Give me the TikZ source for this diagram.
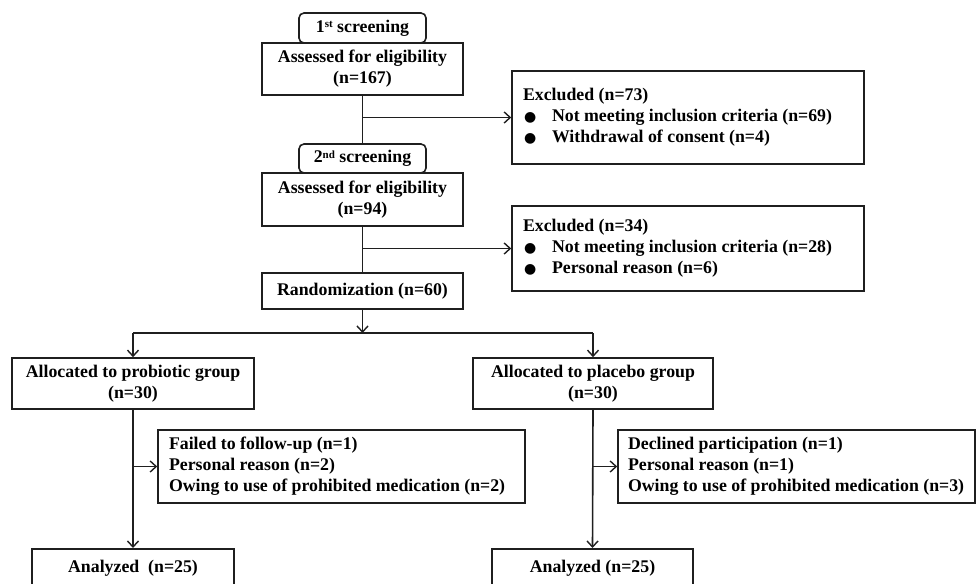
\documentclass[tikz,border=0pt]{standalone}
\usepackage{fontspec}
\setmainfont{Liberation Serif}
\newfontfamily\symf{DejaVu Sans}
\usetikzlibrary{arrows.meta}
\newcommand\bul{\makebox[29pt][l]{\hspace{1pt}{\symf\fontsize{14}{14}\selectfont ●}}}
\newcommand\supx[1]{\raisebox{0.55ex}{\fontsize{11}{11}\selectfont #1}}
\newcommand\lefttext[2]{\makebox[#1][l]{\begin{tabular}{@{}l@{}}#2\end{tabular}}}
\begin{document}
\begin{tikzpicture}[x=1pt,y=-1pt,
  every node/.style={font=\bfseries\fontsize{17.8}{21}\selectfont, inner sep=0pt, text=black},
  box/.style={draw=black!88, line width=1.6pt, align=center},
  sbox/.style={box, rounded corners=5pt},
  side/.style={draw=black!88, line width=1.6pt, inner xsep=11pt},
  conn/.style={draw=black!88, line width=1.6pt},
  arr/.style={conn, -{Straight Barb[length=6pt,width=11pt,line width=1.4pt]}}]
\useasboundingbox (0,0) rectangle (976,583);
\clip (0,0) rectangle (976,583);
\fill[white] (0,0) rectangle (976,583);

\node[sbox, minimum width=127pt, minimum height=30pt] (s1) at (362.5,28) {1\supx{st} screening};
\node[box, minimum width=201pt, minimum height=52pt] (a1) at (362.5,69) {Assessed for eligibility\\(n=167)};
\node[side, minimum height=93pt] (e1) at (688,117.5)
  {\lefttext{330pt}{Excluded (n=73)\\\bul Not meeting inclusion criteria (n=69)\\\bul Withdrawal of consent (n=4)}};

\node[sbox, minimum width=127pt, minimum height=29pt] (s2) at (362.5,158.5) {2\supx{nd} screening};
\node[box, minimum width=201pt, minimum height=53pt] (a2) at (362.5,199.5) {Assessed for eligibility\\(n=94)};
\node[side, minimum height=85pt] (e2) at (688,248.5)
  {\lefttext{330pt}{Excluded (n=34)\\\bul Not meeting inclusion criteria (n=28)\\\bul Personal reason (n=6)}};

\node[box, minimum width=201pt, minimum height=36pt] (r) at (362.5,291) {Randomization (n=60)};
\coordinate (j) at (362.5,333);

\node[box, minimum width=242pt, minimum height=51pt] (p) at (133,383.5) {Allocated to probiotic group\\(n=30)};
\node[box, minimum width=240pt, minimum height=51pt] (q) at (593,383.5) {Allocated to placebo group\\(n=30)};

\node[side, minimum height=73pt] (f1) at (341.5,466.5)
  {\lefttext{345pt}{Failed to follow-up (n=1)\\Personal reason (n=2)\\Owing to use of prohibited medication (n=2)}};
\node[side, inner xsep=10pt, minimum height=73pt] (f2) at (796.5,466.5)
  {\lefttext{337pt}{Declined participation (n=1)\\Personal reason (n=1)\\Owing to use of prohibited medication (n=3)}};

\node[box, minimum width=202pt, minimum height=38pt, anchor=north] (n1) at (133,548) {Analyzed~ (n=25)};
\node[box, minimum width=201pt, minimum height=38pt, anchor=north] (n2) at (592.5,548) {Analyzed (n=25)};

\path[conn] (a1.south) -- (s2.north);
\path[arr] (a1.south |- e1.west) -- (e1.west);
\path[conn] (a2.south) -- (r.north);
\path[arr] (a2.south |- e2.west) -- (e2.west);
\path[arr] (r.south) -- (j);
\path[conn] (p.north |- j) -- (q.north |- j);
\path[arr] (p.north |- j) -- (p.north);
\path[arr] (q.north |- j) -- (q.north);
\path[arr] (p.south) -- (n1.north);
\path[arr] (p.south |- f1.west) -- (f1.west);
\path[arr] (q.south) -- (n2.north);
\path[arr] (q.south |- f2.west) -- (f2.west);
\end{tikzpicture}
\end{document}
